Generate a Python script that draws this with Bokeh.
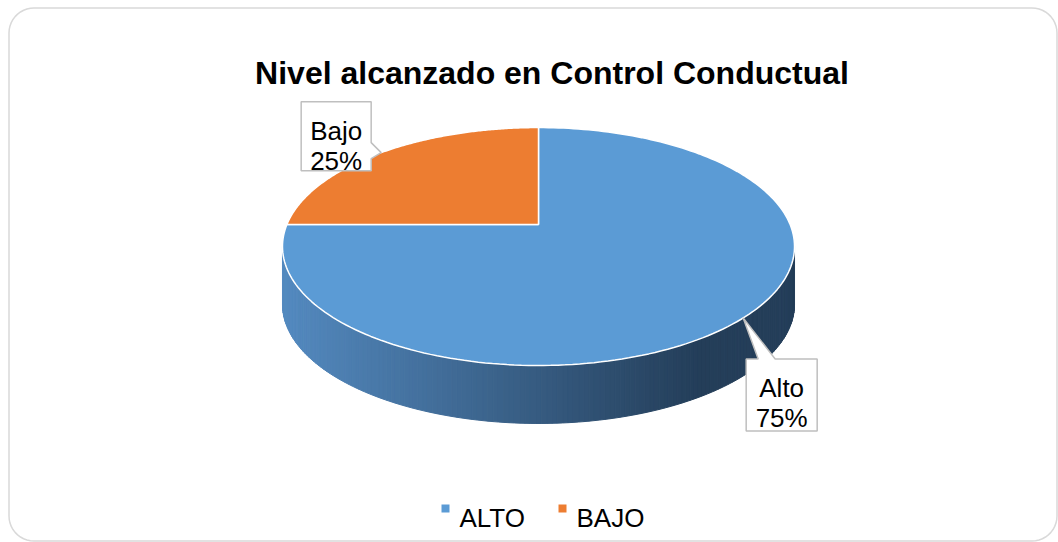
import numpy as np
from bokeh.plotting import figure
from bokeh.models import Range1d
from bokeh.core.properties import value
from bokeh.embed import file_html
from bokeh.resources import INLINE

# ---- data ----
title = "Nivel alcanzado en Control Conductual"
categories = ["ALTO", "BAJO"]
label_names = ["Alto", "Bajo"]
percents = [75, 25]
colors = ["#5B9BD5", "#ED7D31"]

FONT = value("Liberation Sans")

# ---- layout / geometry (page pixel coordinates) ----
W, H = 1058, 542
cx, cy = 538.0, 224.0
A, B, K = 251.6, 114.9, 0.185
DEPTH = 58.0

def proj(theta):
    u, v = np.cos(theta), np.sin(theta)
    d = 1 + K * v
    return cx + A * u / d, cy - B * v / d

p = figure(width=W, height=H, x_range=Range1d(0, W), y_range=Range1d(H, 0),
           output_backend="svg", toolbar_location=None, min_border=0)
p.axis.visible = False
p.grid.visible = False
p.outline_line_color = None
p.background_fill_color = "white"
p.border_fill_color = "white"

# rounded border
r = 25
x0, y0, x1, y1 = 8.5, 7.5, 1056.5, 540.5
bx, by = [], []
for (ccx, ccy, a0) in [(x1 - r, y0 + r, -90), (x1 - r, y1 - r, 0), (x0 + r, y1 - r, 90), (x0 + r, y0 + r, 180)]:
    t = np.radians(np.linspace(a0, a0 + 90, 12))
    bx += list(ccx + r * np.cos(t)); by += list(ccy + r * np.sin(t))
bx.append(bx[0]); by.append(by[0])
p.line(bx, by, line_color="#D9D9D9", line_width=1.5)

# slice angles (start at 12 o'clock, clockwise)
fr = np.array(percents, dtype=float) / sum(percents)
starts = np.pi / 2 - 2 * np.pi * np.concatenate([[0], np.cumsum(fr)[:-1]])
ends = starts - 2 * np.pi * fr

# side wall (front of cylinder) with horizontal gradient
t_a = -np.pi + np.arcsin(K)
t_b = -np.arcsin(K)
ts = np.linspace(t_a, t_b, 160)
c_left = np.array([84, 138, 192]); c_right = np.array([36, 62, 89])
xs_s, ys_s, cols = [], [], []
for i in range(len(ts) - 1):
    xa, ya = proj(ts[i]); xb, yb = proj(ts[i + 1])
    xs_s.append([xa, xb, xb, xa]); ys_s.append([ya, yb, yb + DEPTH, ya + DEPTH])
    t = np.clip(((xa + xb) / 2 - 283) / (700 - 283), 0, 1)
    c = (c_left + (c_right - c_left) * t).astype(int)
    cols.append("#%02x%02x%02x" % tuple(c))
p.patches(xs_s, ys_s, fill_color=cols, line_color=cols, line_width=1)

# top face slices
for s, e, col in zip(starts, ends, colors):
    th = np.linspace(s, e, 200)
    px, py = proj(th)
    p.patch([cx] + list(px) + [cx], [cy] + list(py) + [cy], fill_color=col,
            line_color="white", line_width=1.5)

# callout labels
box_style = {
    "Alto": dict(dx0=3, dx1=74, dy0=41, dy1=113, side="top"),
    "Bajo": dict(dx0=-80, dx1=-10, dy0=-51, dy1=18, side="right"),
}
for name, pc, s, e in zip(label_names, percents, starts, ends):
    tx, ty = proj((s + e) / 2)
    st = box_style[name]
    L, R, T, Bm = tx + st["dx0"], tx + st["dx1"], ty + st["dy0"], ty + st["dy1"]
    if st["side"] == "top":
        xs = [L, L + 12, tx, L + 29, R, R, L, L]
        ys = [T, T, ty, T, T, Bm, Bm, T]
    else:
        xs = [L, R, R, tx, R, R, L, L]
        ys = [T, T, ty - 10, ty, ty + 6, Bm, Bm, T]
    p.patch(xs, ys, fill_color="white", line_color="#BFBFBF", line_width=1.5)
    mx = (L + R) / 2
    p.text([mx, mx], [T + 29, T + 59], text=[name, f"{pc}%"], text_font=FONT,
           text_font_size="26px", text_color="black", text_align="center",
           text_baseline="alphabetic")

# title
p.text([551.5], [72], text=[title], text_font=FONT, text_font_size="32px",
       text_font_style="bold", text_color="black", text_align="center",
       text_baseline="alphabetic")

# legend
leg_x = [445, 562]
p.rect(leg_x, [508] * len(leg_x), width=8, height=8, fill_color=colors, line_color=None)
p.text([x + 14 for x in leg_x], [517] * len(leg_x), text=categories, text_font=FONT,
       text_font_size="26px", text_color="black", text_align="left",
       text_baseline="alphabetic")

open("out.html", "w").write(file_html(p, INLINE))
